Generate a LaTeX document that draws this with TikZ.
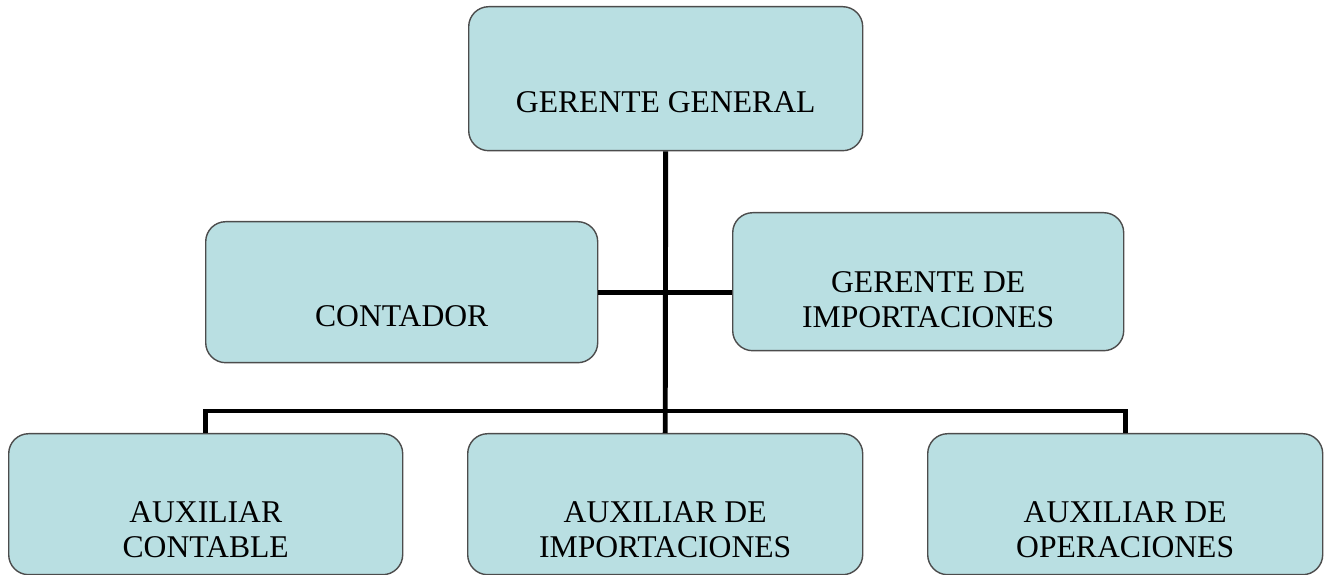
\documentclass[tikz,border=0pt]{standalone}
\usepackage{fontspec}
\setmainfont{Liberation Serif}
\definecolor{boxfill}{RGB}{185,223,226}
\tikzset{
  puesto/.style={draw=black!70, line width=0.8pt, fill=boxfill, rounded corners=0.4cm,
    inner sep=0pt, align=center, font=\fontsize{18}{20}\selectfont, anchor=north west},
  linea/.style={line width=2.8pt}
}
\begin{document}
\begin{tikzpicture}
\useasboundingbox (0,0) rectangle (26.52,-11.5);
% cargos
\node[puesto, minimum width=7.88cm, text height=2.12cm, text depth=0.76cm] (gg) at (9.36,-0.12) {GERENTE GENERAL};
\node[puesto, minimum width=7.84cm, text height=2.1cm, text depth=0.72cm] (cont) at (4.1,-4.42) {CONTADOR};
\node[puesto, minimum width=7.82cm, text height=2.3cm, text depth=0.46cm] (gimp) at (14.64,-4.24) {GERENTE DE\\IMPORTACIONES};
\node[puesto, minimum width=7.88cm, text height=2.48cm, text depth=0.34cm] (aux1) at (0.16,-8.66) {AUXILIAR\\CONTABLE};
\node[puesto, minimum width=7.9cm, text height=2.48cm, text depth=0.34cm] (aux2) at (9.34,-8.66) {AUXILIAR DE\\IMPORTACIONES};
\node[puesto, minimum width=7.9cm, text height=2.48cm, text depth=0.34cm] (aux3) at (18.54,-8.66) {AUXILIAR DE\\OPERACIONES};
% lineas
\coordinate (bus) at (13.3,-8.22);
\draw[linea] (gg.south) -- (aux2.north);
\draw[linea] (cont.east) -- (cont.east -| gimp.west);
\draw[linea] (aux1.north) |- (bus) -| (aux3.north);
\end{tikzpicture}
\end{document}
